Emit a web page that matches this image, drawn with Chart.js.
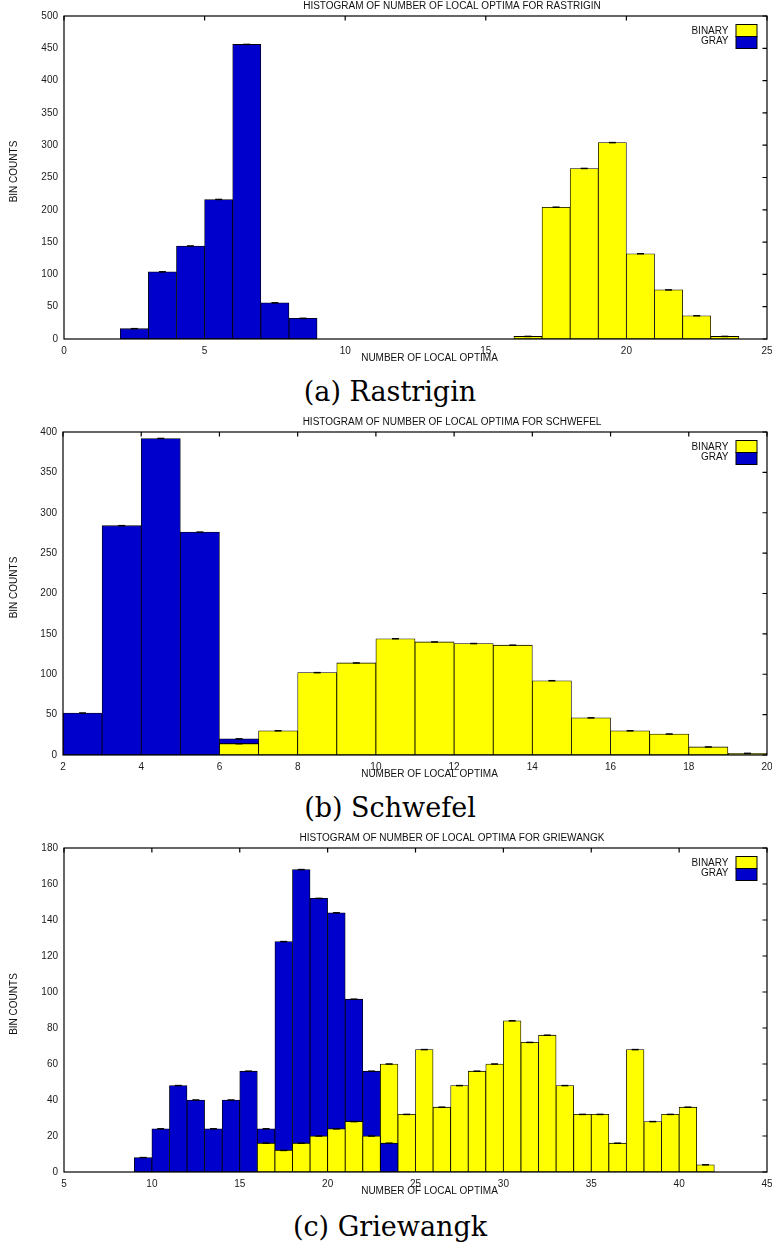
<!DOCTYPE html>
<html><head><meta charset="utf-8">
<script src="https://cdn.jsdelivr.net/npm/chart.js@4.4.1/dist/chart.umd.min.js"></script>
<style>
html,body{margin:0;padding:0;background:#fff;}
body{width:772px;height:1249px;position:relative;overflow:hidden;}
canvas{position:absolute;left:0;}
.cap{position:absolute;left:0;width:780px;text-align:center;font-family:"DejaVu Serif",serif;font-size:27px;color:#000;line-height:30px;}
</style></head><body>
<canvas id="c1" width="772" height="370" style="top:0px"></canvas>
<div class="cap" style="top:377px">(a) Rastrigin</div>
<canvas id="c2" width="772" height="371" style="top:415px"></canvas>
<div class="cap" style="top:793px">(b) Schwefel</div>
<canvas id="c3" width="772" height="373" style="top:830px"></canvas>
<div class="cap" style="top:1212px">(c) Griewangk</div>
<script>
// ---------- DATA (bin start values, bin width 1) ----------
const seriesNames = ['BINARY', 'GRAY'];
const xAxisLabel = 'NUMBER OF LOCAL OPTIMA';
const yAxisLabel = 'BIN COUNTS';

const rastriginTitle = 'HISTOGRAM OF NUMBER OF LOCAL OPTIMA FOR RASTRIGIN';
const rastriginBinaryBins = [16, 17, 18, 19, 20, 21, 22, 23];
const rastriginBinary     = [4, 204, 264, 304, 132, 76, 36, 4];
const rastriginGrayBins   = [2, 3, 4, 5, 6, 7, 8];
const rastriginGray       = [16, 104, 144, 216, 456, 56, 32];

const schwefelTitle = 'HISTOGRAM OF NUMBER OF LOCAL OPTIMA FOR SCHWEFEL';
const schwefelBinaryBins = [6, 7, 8, 9, 10, 11, 12, 13, 14, 15, 16, 17, 18, 19];
const schwefelBinary     = [14, 30, 102, 114, 144, 140, 138, 136, 92, 46, 30, 26, 10, 2];
const schwefelGrayBins   = [2, 3, 4, 5, 6];
const schwefelGray       = [52, 284, 392, 276, 20];

const griewangkTitle = 'HISTOGRAM OF NUMBER OF LOCAL OPTIMA FOR GRIEWANGK';
const griewangkBinaryBins = [16, 17, 18, 19, 20, 21, 22, 23, 24, 25, 26, 27, 28, 29, 30, 31, 32, 33, 34, 35, 36, 37, 38, 39, 40, 41, 42, 43, 44];
const griewangkBinary     = [16, 12, 16, 20, 24, 28, 20, 60, 32, 68, 36, 48, 56, 60, 84, 72, 76, 48, 32, 32, 16, 68, 28, 32, 36, 4, 0, 0, 0];
const griewangkGrayBins   = [5, 6, 7, 8, 9, 10, 11, 12, 13, 14, 15, 16, 17, 18, 19, 20, 21, 22, 23];
const griewangkGray       = [0, 0, 0, 0, 8, 24, 48, 40, 24, 40, 56, 24, 128, 168, 152, 144, 96, 56, 16];

// axis ranges / ticks
const rastriginX = {min: 0, max: 25, step: 5};
const rastriginY = {min: 0, max: 500, step: 50};
const schwefelX  = {min: 2, max: 20, step: 2};
const schwefelY  = {min: 0, max: 400, step: 50};
const griewangkX = {min: 5, max: 45, step: 5};
const griewangkY = {min: 0, max: 180, step: 20};

// ---------- STYLE ----------
const YELLOW = '#ffff00';
const BLUE = '#0000cc';
const FONT = '"Liberation Sans", Arial, sans-serif';
Chart.defaults.font.family = FONT;
Chart.defaults.font.size = 10;
Chart.defaults.color = '#1a1a1a';

function points(bins, vals) {
  return bins.map((b, i) => ({x: b + 0.5, y: vals[i]})).filter(p => p.y > 0);
}
function valueAt(bins, vals, b) {
  const i = bins.indexOf(b);
  return i < 0 ? 0 : vals[i];
}
function frontPoints(bins, vals, oBins, oVals) {
  return bins.map((b, i) => ({x: b + 0.5, y: vals[i], o: valueAt(oBins, oVals, b)}))
    .filter(p => p.y > 0 && p.y <= p.o).map(p => ({x: p.x, y: p.y}));
}

const gnuplotFrame = {
  id: 'gnuplotFrame',
  afterDatasetsDraw(chart, args, opts) {
    const {ctx, chartArea: a, scales: {x, y}} = chart;
    ctx.save();
    ctx.strokeStyle = '#000';
    ctx.lineWidth = 1.2;
    ctx.strokeRect(a.left, a.top, a.right - a.left, a.bottom - a.top);
    ctx.beginPath();
    x.ticks.forEach(t => { const px = x.getPixelForValue(t.value); ctx.moveTo(px, a.top); ctx.lineTo(px, a.top + 4.5); });
    y.ticks.forEach(t => { const py = y.getPixelForValue(t.value); ctx.moveTo(a.right, py); ctx.lineTo(a.right - 4.5, py); });
    ctx.stroke();

    ctx.fillStyle = '#111';
    ctx.font = '10px ' + FONT;
    ctx.textBaseline = 'middle';
    ctx.textAlign = 'center';
    ctx.fillText(opts.title, opts.titleX, a.top - 9.5);
    ctx.fillText(opts.xLabel, opts.xLabelX, a.bottom + 19.5);
    ctx.save();
    ctx.translate(14, (a.top + a.bottom) / 2 - 6);
    ctx.rotate(-Math.PI / 2);
    ctx.fillText(opts.yLabel, 0, 0);
    ctx.restore();

    // key
    const entries = chart.data.datasets.filter(d => d.inKey);
    ctx.textAlign = 'right';
    entries.forEach((d, i) => {
      ctx.fillStyle = '#111';
      ctx.fillText(d.label, a.right - 38.5, a.top + 15 + i * 10.5);
      const sy = a.top + 8.5 + i * 12;
      ctx.fillStyle = d.backgroundColor;
      ctx.fillRect(a.right - 31, sy, 21, 12);
      ctx.lineWidth = 1;
      ctx.strokeStyle = '#000';
      ctx.strokeRect(a.right - 31, sy, 21, 12);
    });
    ctx.restore();
  }
};

function makeChart(id, cfg) {
  const binPts = points(cfg.bBins, cfg.bVals);
  const grayPts = points(cfg.gBins, cfg.gVals);
  const binFront = frontPoints(cfg.bBins, cfg.bVals, cfg.gBins, cfg.gVals);
  const grayFront = frontPoints(cfg.gBins, cfg.gVals, cfg.bBins, cfg.bVals);
  const barCommon = {type: 'bar', grouped: false, borderColor: '#000', borderWidth: 0.8, borderSkipped: false,
    barPercentage: 1, categoryPercentage: 1};
  const dashCommon = {type: 'scatter', pointStyle: 'line', pointRadius: 3.5, pointBorderColor: '#000',
    pointBorderWidth: 1.5, pointHoverRadius: 3.5, order: 0};
  new Chart(document.getElementById(id), {
    type: 'bar',
    data: {
      datasets: [
        Object.assign({label: 'dashB', data: binPts}, dashCommon),
        Object.assign({label: 'dashG', data: grayPts}, dashCommon),
        Object.assign({label: seriesNames[0] + ' front', data: binFront, backgroundColor: YELLOW, order: 1}, barCommon),
        Object.assign({label: seriesNames[1] + ' front', data: grayFront, backgroundColor: BLUE, order: 1}, barCommon),
        Object.assign({label: seriesNames[0], data: binPts, backgroundColor: YELLOW, order: 2, inKey: true}, barCommon),
        Object.assign({label: seriesNames[1], data: grayPts, backgroundColor: BLUE, order: 2, inKey: true}, barCommon)
      ]
    },
    options: {
      responsive: false,
      animation: false,
      events: [],
      layout: {padding: {top: cfg.padTop, right: 5, left: 0, bottom: 0}},
      plugins: {
        legend: {display: false},
        tooltip: {enabled: false},
        gnuplotFrame: {title: cfg.title, titleX: 452, xLabel: xAxisLabel, xLabelX: 429.5, yLabel: yAxisLabel}
      },
      scales: {
        x: {
          type: 'linear', offset: false, min: cfg.xr.min, max: cfg.xr.max,
          grid: {display: false, drawTicks: false}, border: {display: false},
          ticks: {stepSize: cfg.xr.step, padding: 6, maxRotation: 0, autoSkip: false},
          afterFit(s) { s.height = 31; s.paddingLeft = 0; s.paddingRight = 0; }
        },
        y: {
          min: cfg.yr.min, max: cfg.yr.max, stacked: false,
          grid: {display: false, drawTicks: false}, border: {display: false},
          ticks: {stepSize: cfg.yr.step, padding: 6, autoSkip: false},
          afterFit(s) { s.width = cfg.left; s.paddingTop = 0; s.paddingBottom = 0; }
        }
      }
    },
    plugins: [gnuplotFrame]
  });
}

makeChart('c1', {title: rastriginTitle, bBins: rastriginBinaryBins, bVals: rastriginBinary,
  gBins: rastriginGrayBins, gVals: rastriginGray, xr: rastriginX, yr: rastriginY, padTop: 16, left: 64});
makeChart('c2', {title: schwefelTitle, bBins: schwefelBinaryBins, bVals: schwefelBinary,
  gBins: schwefelGrayBins, gVals: schwefelGray, xr: schwefelX, yr: schwefelY, padTop: 17, left: 63});
makeChart('c3', {title: griewangkTitle, bBins: griewangkBinaryBins, bVals: griewangkBinary,
  gBins: griewangkGrayBins, gVals: griewangkGray, xr: griewangkX, yr: griewangkY, padTop: 18, left: 64});
</script>
</body></html>
